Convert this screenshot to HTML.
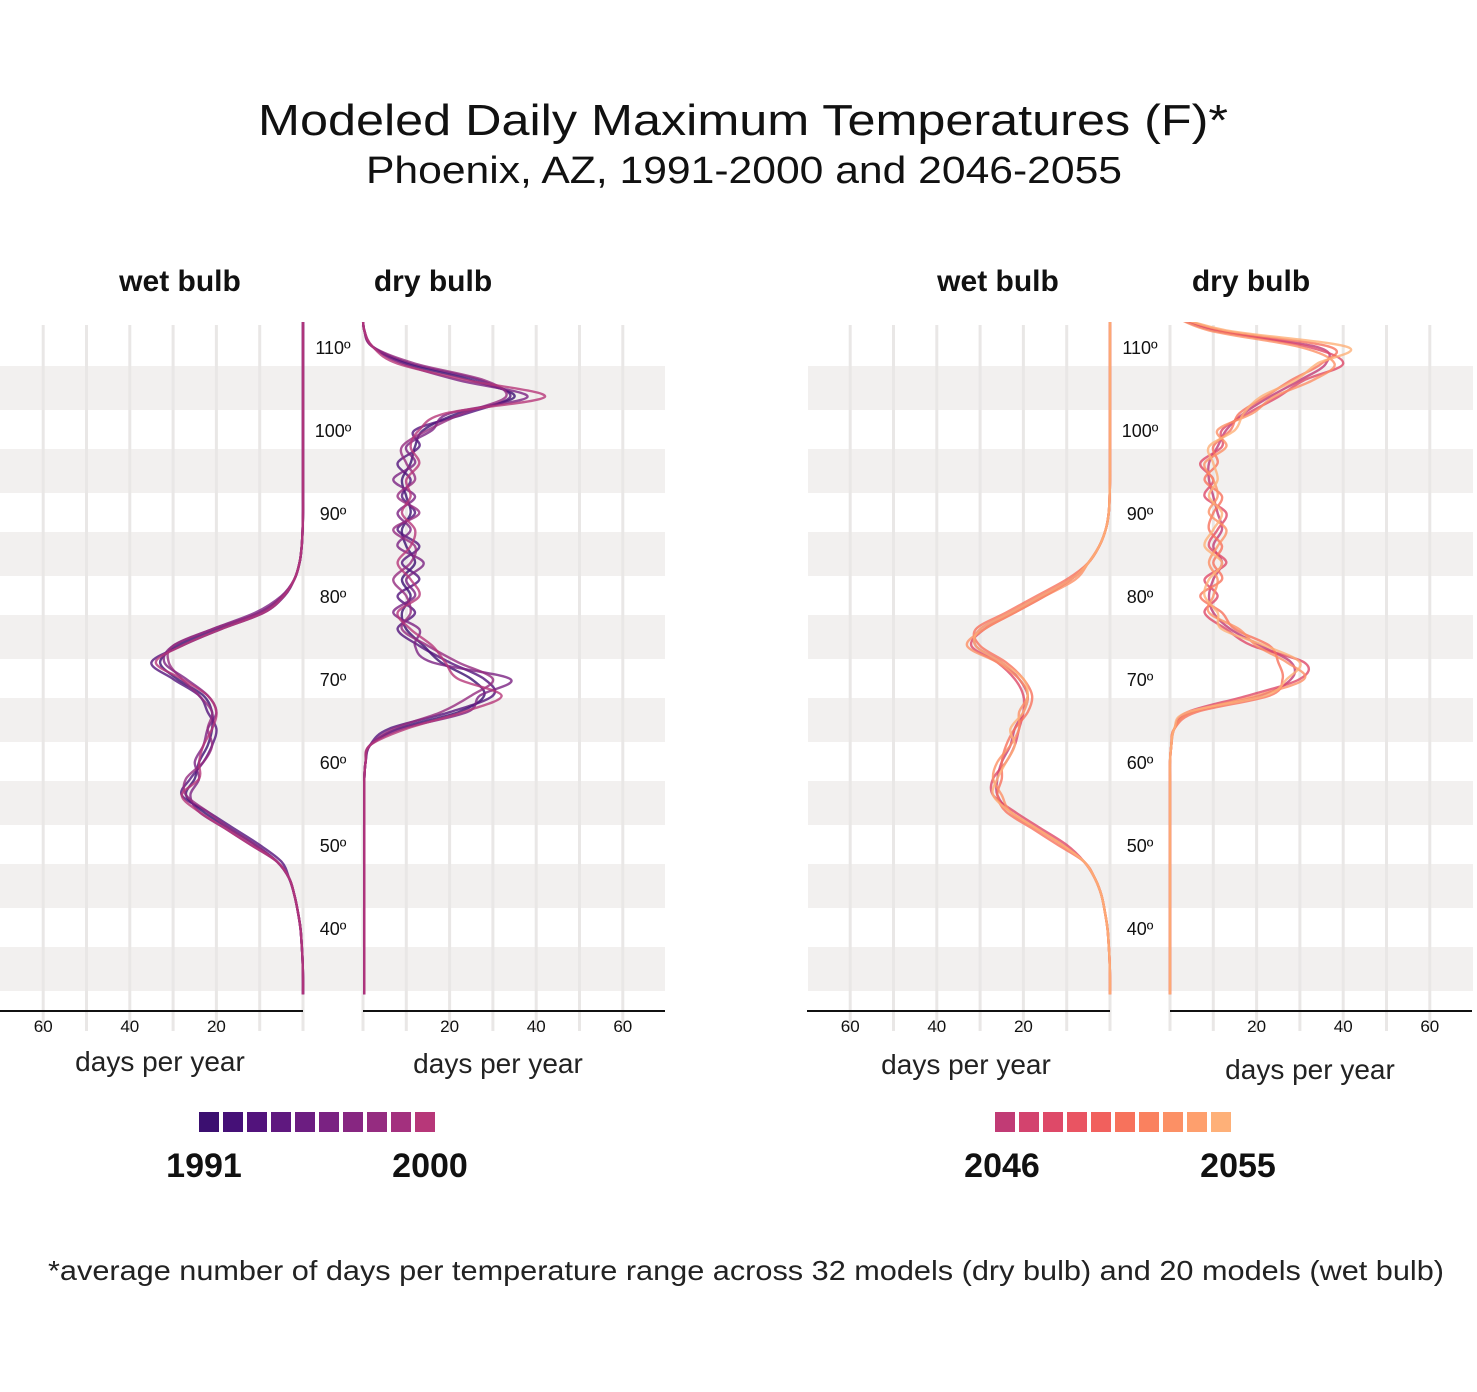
<!DOCTYPE html>
<html><head><meta charset="utf-8">
<style>
html,body{margin:0;padding:0;background:#fff;}
svg{display:block;font-family:"Liberation Sans",sans-serif;}
</style></head>
<body>
<svg id="chart" width="1477" height="1392" viewBox="0 0 1477 1392" xmlns="http://www.w3.org/2000/svg">
<text x="743" y="135" text-anchor="middle" font-size="44" textLength="970" lengthAdjust="spacingAndGlyphs" fill="#111">Modeled Daily Maximum Temperatures (F)*</text>
<text x="744" y="183" text-anchor="middle" font-size="38" textLength="756" lengthAdjust="spacingAndGlyphs" fill="#111">Phoenix, AZ, 1991-2000 and 2046-2055</text>
<g id="bg"></g>
<g id="marks"></g>
<g id="labels"></g>
<text x="746" y="1280" text-anchor="middle" font-size="28" textLength="1396" lengthAdjust="spacingAndGlyphs" fill="#222">*average number of days per temperature range across 32 models (dry bulb) and 20 models (wet bulb)</text>
</svg>
<script>
// temperatures (F): 32,34,...,114
const temps = [32,34,36,38,40,42,44,46,48,50,52,54,56,58,60,62,64,66,68,70,72,74,76,78,80,82,84,86,88,90,92,94,96,98,100,102,104,106,108,110,112,114];
const tempTicks = [40,50,60,70,80,90,100,110];
const dayTicks = [20,40,60];
const pastYears = ["1991","2000"];
const futureYears = ["2046","2055"];
const pastColors = ["#3b0f70","#451077","#52137c","#5f187f","#6c1d81","#7a2282","#872681","#952c80","#a3307e","#b73779"];
const futureColors = ["#c13b75","#d3436e","#de4968","#e95462","#f1605d","#f7725c","#fa815f","#fc9065","#fe9f6d","#feb078"];

// past wet bulb series
const pastWet1 = [0,0,0.1,0.3,0.6,1.2,2,3.2,6,11,17,23,27,25,24,22,21,21,23,29,33,29,20,10,4.6,2,0.8,0.3,0.1,0,0,0,0,0,0,0,0,0,0,0,0,0];
const pastWet2 = [0,0,0.1,0.3,0.6,1.2,2,3.2,5,10,16,22,28,26,23,21,20,22,24,30,35,28,19,9,4.3,2,0.8,0.3,0.1,0,0,0,0,0,0,0,0,0,0,0,0,0];
const pastWet3 = [0,0,0.1,0.3,0.6,1.2,2,3.2,6,12,18,24,26,24,25,23,22,20,22,27,32,30,21,11,5,2,0.8,0.3,0.1,0,0,0,0,0,0,0,0,0,0,0,0,0];
const pastWet4 = [0,0,0.1,0.3,0.6,1.2,2,3.2,6,11,17,22,27,27,23,21,22,21,24,28,31,30,21,10,4.8,2,0.8,0.3,0.1,0,0,0,0,0,0,0,0,0,0,0,0,0];
const pastWet5 = [0,0,0.1,0.3,0.6,1.2,2,3.2,6,12,18,24,28,24,24,23,21,20,22,28,34,28,19,9,4.4,2,0.8,0.3,0.1,0,0,0,0,0,0,0,0,0,0,0,0,0];
// past dry bulb series
const pastDry1 = [0.3,0.3,0.3,0.3,0.3,0.3,0.3,0.3,0.3,0.3,0.3,0.3,0.3,0.3,0.6,1.6,8,22,28,25,18,14,10,9,11,9,12,10,9,11,10,9,11,12,14,22,35,25,10,2.3,0.3,0];
const pastDry2 = [0.3,0.3,0.3,0.3,0.3,0.3,0.3,0.3,0.3,0.3,0.3,0.3,0.3,0.3,0.6,1.6,6,20,30,28,20,13,8,12,8,13,9,13,8,12,9,11,8,13,12,24,34,27,11,2.3,0.3,0];
const pastDry3 = [0.3,0.3,0.3,0.3,0.3,0.3,0.3,0.3,0.3,0.3,0.3,0.3,0.3,0.3,0.6,1.6,9,24,27,34,16,12,13,7,12,10,14,8,11,8,12,7,12,10,16,20,38,22,9,2.3,0.3,0];
const pastDry4 = [0.3,0.3,0.3,0.3,0.3,0.3,0.3,0.3,0.3,0.3,0.3,0.3,0.3,0.3,0.6,1.6,7,18,25,30,22,15,9,11,10,7,11,12,7,13,8,12,10,9,15,23,33,28,12,2.3,0.3,0];
const pastDry5 = [0.3,0.3,0.3,0.3,0.3,0.3,0.3,0.3,0.3,0.3,0.3,0.3,0.3,0.3,0.6,1.6,10,23,32,22,19,16,11,8,13,11,8,11,12,9,11,10,13,11,13,19,42,24,8,2.3,0.3,0];
// future wet bulb series
const futWet1 = [0,0,0.1,0.3,0.6,1.2,2,3.5,6,11,17,23,26,26,25,23,22,20,19,21,25,31,30,23,16,9,5,2.5,1,0.3,0.1,0,0,0,0,0,0,0,0,0,0,0];
const futWet2 = [0,0,0.1,0.3,0.6,1.2,2,3.5,6,10,16,22,27,27,24,22,21,20,20,22,26,32,29,22,15,9,5,2.5,1,0.3,0.1,0,0,0,0,0,0,0,0,0,0,0];
const futWet3 = [0,0,0.1,0.3,0.6,1.2,2,3.5,6,12,18,24,26,25,25,24,22,19,18,20,24,30,31,24,17,10,5,2.5,1,0.3,0.1,0,0,0,0,0,0,0,0,0,0,0];
const futWet4 = [0,0,0.1,0.3,0.6,1.2,2,3.5,6,11,17,23,25,27,26,23,21,21,19,21,26,33,29,22,15,8,5,2.5,1,0.3,0.1,0,0,0,0,0,0,0,0,0,0,0];
const futWet5 = [0,0,0.1,0.3,0.6,1.2,2,3.5,6,11,17,23,27,26,24,22,23,20,19,20,25,31,30,23,16,9,5,2.5,1,0.3,0.1,0,0,0,0,0,0,0,0,0,0,0];
// future dry bulb series
const futDry1 = [0,0,0,0,0,0,0,0,0,0,0,0,0,0,0,0.3,1,5,21,28,28,21,14,10,9,10,12,10,12,11,10,9,9,11,13,17,23,30,36,34,10,0];
const futDry2 = [0,0,0,0,0,0,0,0,0,0,0,0,0,0,0,0.3,1,4,18,30,31,19,13,8,11,8,13,9,11,13,8,10,7,12,12,18,25,31,40,32,11,0];
const futDry3 = [0,0,0,0,0,0,0,0,0,0,0,0,0,0,0,0.3,1,6,23,26,25,23,15,12,7,12,10,12,9,10,12,8,11,10,14,16,22,28,35,37,12,0];
const futDry4 = [0,0,0,0,0,0,0,0,0,0,0,0,0,0,0,0.3,1,5,20,31,27,20,16,9,10,11,9,11,13,9,11,10,8,13,11,19,24,33,38,30,9,0];
const futDry5 = [0,0,0,0,0,0,0,0,0,0,0,0,0,0,0,0.3,1,4,22,27,30,22,12,11,8,9,12,8,10,12,9,11,10,9,15,17,21,29,34,41,13,0];

const NS="http://www.w3.org/2000/svg";
function mk(tag, attrs, parent){const e=document.createElementNS(NS,tag);for(const k in attrs)e.setAttribute(k,attrs[k]);parent.appendChild(e);return e;}
const yScale = t => 347 + (110 - t) * 8.3;
const PX = 4.33;
const panels = [
  {name:"past-wet", x0:303, dir:-1, series:[pastWet1,pastWet2,pastWet3,pastWet4,pastWet5], colors:pastColors},
  {name:"past-dry", x0:363, dir:1, series:[pastDry1,pastDry2,pastDry3,pastDry4,pastDry5], colors:pastColors},
  {name:"future-wet", x0:1110, dir:-1, series:[futWet1,futWet2,futWet3,futWet4,futWet5], colors:futureColors},
  {name:"future-dry", x0:1170, dir:1, series:[futDry1,futDry2,futDry3,futDry4,futDry5], colors:futureColors}
];
const bg=document.getElementById('bg'), marks=document.getElementById('marks'), labels=document.getElementById('labels');
// bands
[[0,665],[808,1473]].forEach((r,pi)=>{
  for(let i=0;i<8;i++){
    const b=mk('rect',{x:r[0],y:366+i*83,width:r[1]-r[0],height:44,fill:'#f2f0ef'},bg);
    
    
  }
});
// gridlines
panels.forEach(p=>{
  for(let d=0; d<=60; d+=10){
    const x=p.x0+p.dir*d*PX;
    const g=mk('line',{x1:x,x2:x,y1:325,y2:1031,stroke:'#e9e7e6','stroke-width':3},bg);
    
    
  }
  const x1=p.dir<0? 0 : p.x0, x2=p.dir<0? p.x0 : p.x0+302;
  const ax=mk('line',{x1:p.dir<0?p.x0-303:p.x0,x2:p.dir<0?p.x0:p.x0+302,y1:1011,y2:1011,stroke:'#111','stroke-width':2},bg);
  
  
  dayTicks.forEach(d=>{
    const t=mk('text',{x:p.x0+p.dir*d*PX,y:1032,'text-anchor':'middle','font-size':17,fill:'#111'},labels);
    t.textContent=d;
    
    
  });
});
// clip
const defs=mk('defs',{},marks);
const cp=mk('clipPath',{id:'clipY'},defs);
mk('rect',{x:0,y:322,width:1477,height:681},cp);
const lg=mk('g',{'clip-path':'url(#clipY)'},marks);
function pathFor(p, vals){
  const pts=temps.map((t,i)=>[p.x0+p.dir*vals[i]*PX, yScale(t)]);
  let d='M'+pts[0][0].toFixed(1)+','+pts[0][1].toFixed(1);
  for(let i=0;i<pts.length-1;i++){
    const p0=pts[Math.max(0,i-1)],p1=pts[i],p2=pts[i+1],p3=pts[Math.min(pts.length-1,i+2)];
    const c1=[p1[0]+(p2[0]-p0[0])/6,p1[1]+(p2[1]-p0[1])/6];
    const c2=[p2[0]-(p3[0]-p1[0])/6,p2[1]-(p3[1]-p1[1])/6];
    d+=' C'+c1.map(v=>v.toFixed(1)).join(',')+' '+c2.map(v=>v.toFixed(1)).join(',')+' '+p2[0].toFixed(1)+','+p2[1].toFixed(1);
  }
  return d;
}
panels.forEach(p=>{
  p.series.forEach((s,si)=>{
    const col=p.colors[[0,2,5,7,9][si]];
    const el=mk('path',{d:pathFor(p,s),fill:'none',stroke:col,'stroke-width':2.4,'stroke-opacity':0.8},lg);
    
    
  });
});
// temperature labels
[333,1140].forEach(cx=>{
  tempTicks.forEach(t=>{
    const e=mk('text',{x:cx,y:yScale(t)+7,'text-anchor':'middle','font-size':18,fill:'#111'},labels);
    e.textContent=t+'º';
    
    
  });
});
// panel titles
[[180,'wet bulb'],[433,'dry bulb'],[998,'wet bulb'],[1251,'dry bulb']].forEach(a=>{
  const e=mk('text',{x:a[0],y:291,'text-anchor':'middle','font-size':30,'font-weight':'bold',fill:'#111'},labels);
  e.textContent=a[1];
  
  
});
[[160,1071],[498,1073],[966,1074],[1310,1079]].forEach(a=>{
  const e=mk('text',{x:a[0],y:a[1],'text-anchor':'middle','font-size':28,fill:'#222'},labels);
  e.textContent='days per year';
  
  
});
// legends
[[199,pastColors,pastYears,204,430],[995,futureColors,futureYears,1002,1238]].forEach(L=>{
  L[1].forEach((c,i)=>{
    const r=mk('rect',{x:L[0]+i*24,y:1112,width:20,height:20,fill:c},labels);
    
    
  });
  [[L[3],L[2][0]],[L[4],L[2][1]]].forEach(a=>{
    const e=mk('text',{x:a[0],y:1177,'text-anchor':'middle','font-size':34,'font-weight':'bold',fill:'#111'},labels);
    e.textContent=a[1];
    
    
  });
});
</script>
</body></html>
